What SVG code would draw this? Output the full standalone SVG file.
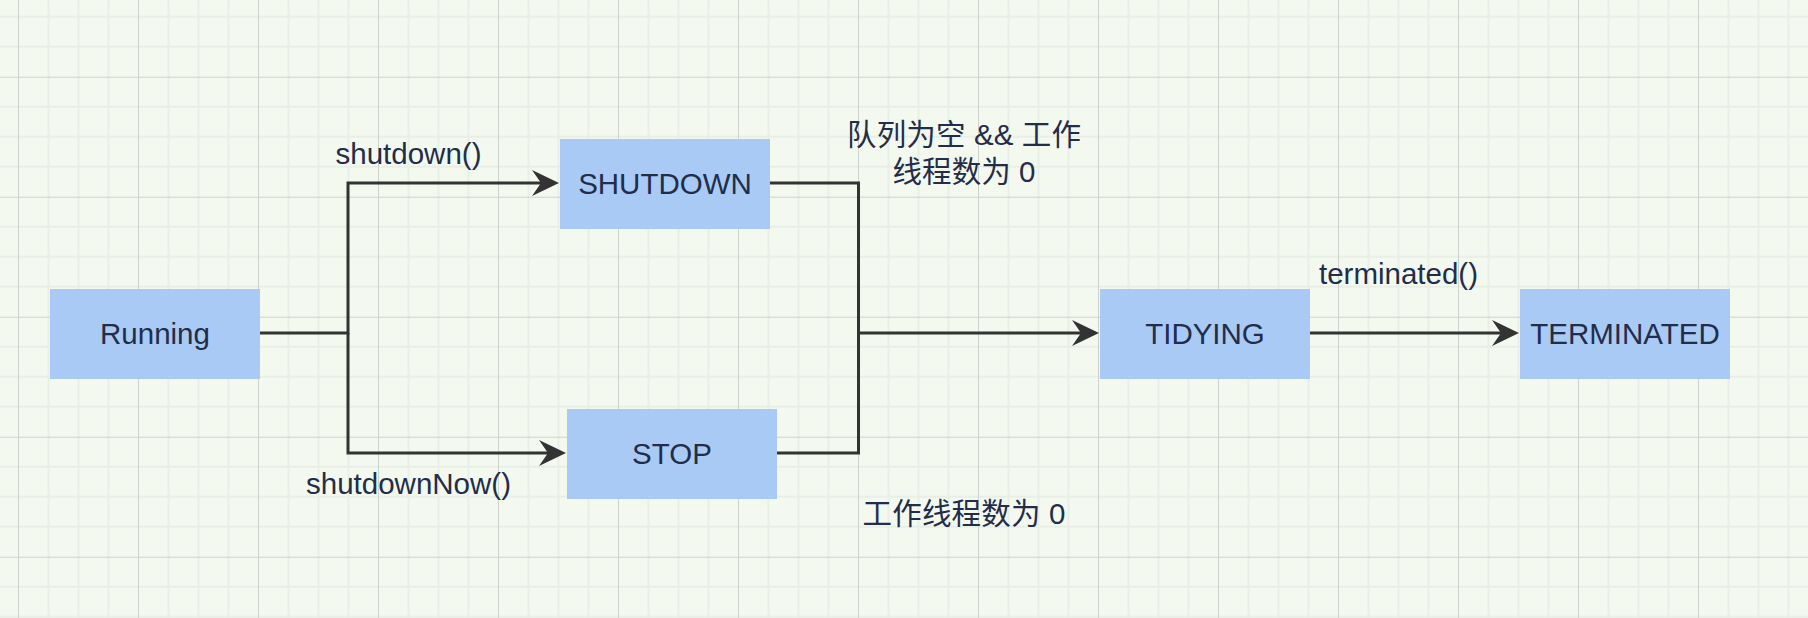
<svg xmlns="http://www.w3.org/2000/svg" width="1808" height="618" viewBox="0 0 1808 618">
  <style>
    .node { fill: #A9CAF5; stroke: none; }
    .lbl { font-family: "Liberation Sans", "Noto Sans CJK SC", sans-serif; font-size: 29.5px; fill: #222d4a; text-anchor: middle; }
    .edge { fill: none; stroke: #333333; stroke-width: 3; }
  </style>
  <defs>
    <pattern id="grid" patternUnits="userSpaceOnUse" x="18" y="76.7" width="120" height="120">
      <rect x="29.5" y="0" width="2" height="120" fill="#e9eee6"/>
      <rect x="59.5" y="0" width="2" height="120" fill="#e9eee6"/>
      <rect x="89.5" y="0" width="2" height="120" fill="#e9eee6"/>
      <rect x="0" y="29" width="120" height="2" fill="#e9eee6"/>
      <rect x="0" y="59" width="120" height="2" fill="#e9eee6"/>
      <rect x="0" y="89" width="120" height="2" fill="#e9eee6"/>
      <rect x="0" y="0" width="1" height="120" fill="#cfd2cc"/>
      <rect x="0" y="0" width="120" height="1" fill="#cfd2cc"/>
    </pattern>
    <marker id="arrow" markerUnits="userSpaceOnUse" markerWidth="28" markerHeight="28" refX="12" refY="13.5" orient="auto" overflow="visible">
      <path d="M0,0.5 L27,13.5 L0,26.5 L9,13.5 Z" fill="#333333" stroke="none"/>
    </marker>
  </defs>
  <rect x="0" y="0" width="1808" height="618" fill="#F4F9EF"/>
  <rect x="0" y="0" width="1808" height="618" fill="url(#grid)"/>

  <g id="connectors">
    <path class="edge" d="M260,333 H348 V183 H544" marker-end="url(#arrow)"/>
    <path class="edge" d="M348,333 V453 H551" marker-end="url(#arrow)"/>
    <path class="edge" d="M770,183 H858.5 V333 H1084" marker-end="url(#arrow)"/>
    <path class="edge" d="M777,453 H858.5 V333"/>
    <path class="edge" d="M1310,333 H1504" marker-end="url(#arrow)"/>
    <text class="lbl" x="408.5" y="163.5">shutdown()</text>
    <text class="lbl" x="408.5" y="493.5">shutdownNow()</text>
    <text class="lbl" x="964" y="145" textLength="234" lengthAdjust="spacing">队列为空 &amp;&amp; 工作</text>
    <text class="lbl" x="964" y="182" textLength="143" lengthAdjust="spacing">线程数为 0</text>
    <text class="lbl" x="964" y="524" textLength="203" lengthAdjust="spacing">工作线程数为 0</text>
    <text class="lbl" x="1398.5" y="283.5">terminated()</text>
  </g>

  <g id="running">
    <rect class="node" x="50" y="289" width="210" height="90"/>
    <text class="lbl" x="155" y="344">Running</text>
  </g>
  <g id="shutdown">
    <rect class="node" x="560" y="139" width="210" height="90"/>
    <text class="lbl" x="665" y="194">SHUTDOWN</text>
  </g>
  <g id="stop">
    <rect class="node" x="567" y="409" width="210" height="90"/>
    <text class="lbl" x="672" y="464">STOP</text>
  </g>
  <g id="tidying">
    <rect class="node" x="1100" y="289" width="210" height="90"/>
    <text class="lbl" x="1205" y="343.5">TIDYING</text>
  </g>
  <g id="terminated">
    <rect class="node" x="1520" y="289" width="210" height="90"/>
    <text class="lbl" x="1625" y="343.5">TERMINATED</text>
  </g>
</svg>
